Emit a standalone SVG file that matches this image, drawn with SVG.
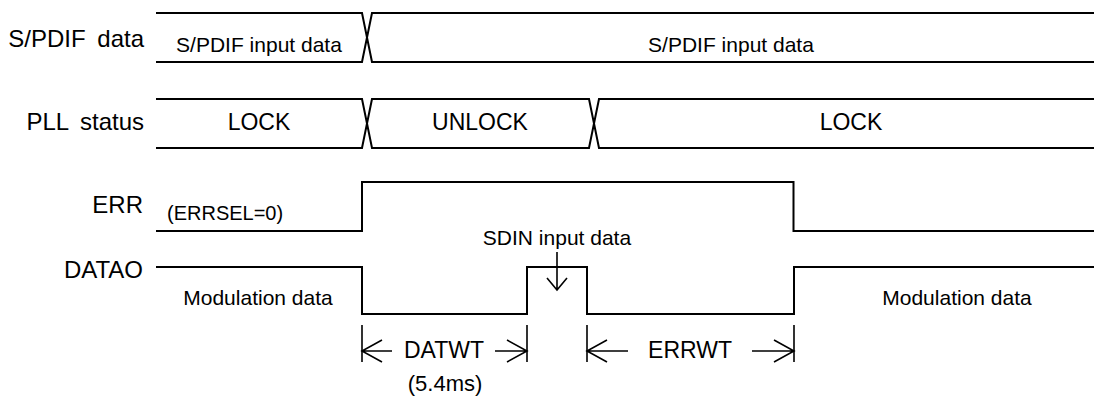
<svg xmlns="http://www.w3.org/2000/svg" width="1094" height="398" viewBox="0 0 1094 398">
<style>
.w{fill:none;stroke:#000;stroke-width:2;stroke-linejoin:miter}
.d{fill:none;stroke:#000;stroke-width:1.6}
text{font-family:"Liberation Sans",Arial,sans-serif;fill:#000}
.lab{font-size:24px;text-anchor:end;word-spacing:5px}
.c{text-anchor:middle}
</style>
<rect width="1094" height="398" fill="#fff"/>
<g id="spdif">
<text class="lab" x="144" y="47">S/PDIF data</text>
<path class="w" d="M156,13H362L372,62H1094M156,62H362L372,13H1094"/>
<text class="c" x="259" y="52" font-size="21">S/PDIF input data</text>
<text class="c" x="731" y="52" font-size="21">S/PDIF input data</text>
</g>
<g id="pll">
<text class="lab" x="144" y="130">PLL status</text>
<path class="w" d="M156,99H362L372,148H589L599,99H1094M156,148H362L372,99H589L599,148H1094"/>
<text class="c" x="259" y="130" font-size="23">LOCK</text>
<text class="c" x="480" y="130" font-size="23">UNLOCK</text>
<text class="c" x="851" y="130" font-size="23">LOCK</text>
</g>
<g id="err">
<text class="lab" x="143" y="213">ERR</text>
<path class="w" d="M156,231H362V182H793.5V231H1094"/>
<text x="167" y="220" font-size="20">(ERRSEL=0)</text>
</g>
<g id="datao">
<text class="lab" x="143" y="278">DATAO</text>
<path class="w" d="M156,267H362V314H527V267H587V314H794V267H1094"/>
<text class="c" x="258" y="305" font-size="21">Modulation data</text>
<text class="c" x="957" y="305" font-size="21">Modulation data</text>
</g>
<g id="sdin">
<text class="c" x="557" y="245" font-size="21">SDIN input data</text>
<path class="d" d="M557,252V290M547,278L557,290L567,278"/>
</g>
<g id="connectors">
<path class="d" d="M362,325V362M527,325V362M587,325V362M794,325V362"/>
<path class="d" d="M362,351H392M382,340L362,351L382,362"/>
<path class="d" d="M495,351H527M507,340L527,351L507,362"/>
<path class="d" d="M587,351H628M607,340L587,351L607,362"/>
<path class="d" d="M752,351H794M774,340L794,351L774,362"/>
<text class="c" x="444" y="358" font-size="23">DATWT</text>
<text class="c" x="690" y="358" font-size="23">ERRWT</text>
<text class="c" x="445" y="391" font-size="22">(5.4ms)</text>
</g>
</svg>
